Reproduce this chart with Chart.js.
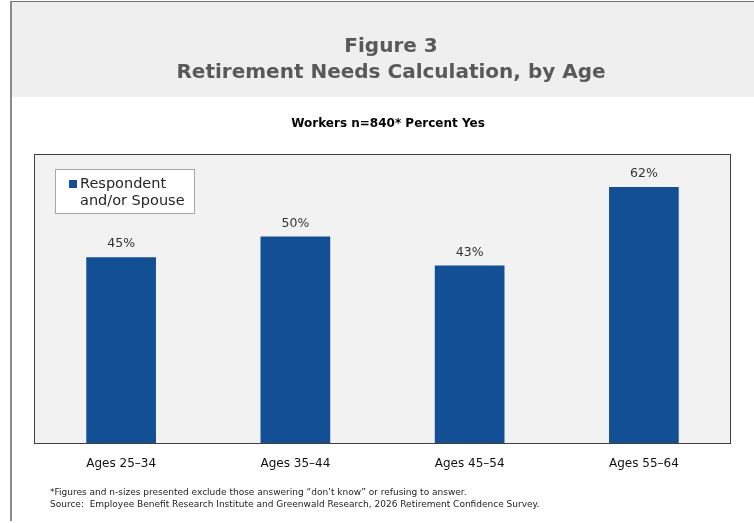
<!DOCTYPE html>
<html>
<head>
<meta charset="utf-8">
<script src="https://cdn.jsdelivr.net/npm/chart.js@4.4.0/dist/chart.umd.min.js"></script>
<style>
  html, body { margin: 0; padding: 0; background: #fff; }
  #wrap { position: relative; width: 754px; height: 523px; }
</style>
</head>
<body>
<div id="wrap"><canvas id="chart" width="754" height="523"></canvas></div>
<script>
const ageGroups = ['Ages 25\u201334', 'Ages 35\u201344', 'Ages 45\u201354', 'Ages 55\u201364'];
const percentYes = [45, 50, 43, 62];
const seriesLabel = ['Respondent', 'and/or Spouse'];
const titleLines = ['Figure 3', 'Retirement Needs Calculation, by Age'];
const subtitle = 'Workers n=840* Percent Yes';
const footnotes = [
  '*Figures and n-sizes presented exclude those answering \u201cdon\u2019t know\u201d or refusing to answer.',
  'Source:  Employee Benefit Research Institute and Greenwald Research, 2026 Retirement Confidence Survey.'
];

const FONT = '"DejaVu Sans", sans-serif';
const BAR_BLUE = '#124f94';

// page frame, header band, plot background and border
const framePlugin = {
  id: 'frame',
  beforeDraw(chart) {
    const ctx = chart.ctx;
    const a = chart.chartArea;
    ctx.save();
    ctx.fillStyle = '#ffffff';
    ctx.fillRect(0, 0, chart.width, chart.height);

    ctx.fillStyle = '#efefef';
    ctx.fillRect(10, 1, chart.width - 10, 96);
    ctx.strokeStyle = '#6e6e6e';
    ctx.lineWidth = 1;
    ctx.beginPath();
    ctx.moveTo(10, 1.5);
    ctx.lineTo(chart.width, 1.5);
    ctx.stroke();
    ctx.lineWidth = 2;
    ctx.strokeStyle = '#8a8a8a';
    ctx.beginPath();
    ctx.moveTo(11, 1);
    ctx.lineTo(11, 521);
    ctx.stroke();

    ctx.fillStyle = '#595959';
    ctx.textAlign = 'center';
    ctx.textBaseline = 'middle';
    ctx.font = 'bold 20px ' + FONT;
    ctx.fillText(titleLines[0], 391, 47);
    ctx.fillText(titleLines[1], 391, 73);

    ctx.fillStyle = '#000';
    ctx.font = 'bold 12px ' + FONT;
    ctx.fillText(subtitle, 388, 124);

    ctx.fillStyle = '#f2f2f2';
    ctx.fillRect(a.left, a.top, a.right - a.left, a.bottom - a.top);

    ctx.textAlign = 'left';
    ctx.fillStyle = '#222';
    ctx.font = '9px ' + FONT;
    ctx.fillText(footnotes[0], 50, 493);
    ctx.fillText(footnotes[1], 50, 505);
    ctx.restore();
  },
  afterDraw(chart) {
    const ctx = chart.ctx;
    const a = chart.chartArea;
    ctx.save();
    ctx.strokeStyle = '#404040';
    ctx.lineWidth = 1;
    ctx.strokeRect(a.left + 0.5, a.top + 0.5, a.right - a.left - 1, a.bottom - a.top);

    // legend box inside the plot
    const lx = 55, ly = 169, lw = 139, lh = 44;
    ctx.fillStyle = '#fff';
    ctx.fillRect(lx, ly, lw, lh);
    ctx.strokeStyle = '#a6a6a6';
    ctx.strokeRect(lx + 0.5, ly + 0.5, lw, lh);
    ctx.fillStyle = chart.data.datasets[0].backgroundColor;
    ctx.fillRect(69, 180, 8, 8);
    ctx.fillStyle = '#262626';
    ctx.font = '14.5px ' + FONT;
    ctx.textAlign = 'left';
    ctx.textBaseline = 'middle';
    ctx.fillText(seriesLabel[0], 80, 184);
    ctx.fillText(seriesLabel[1], 80, 201);

    // value labels above each bar
    const meta = chart.getDatasetMeta(0);
    ctx.fillStyle = '#333';
    ctx.textAlign = 'center';
    ctx.font = '12.5px ' + FONT;
    meta.data.forEach((bar, i) => {
      ctx.fillText(chart.data.datasets[0].data[i] + '%', bar.x, bar.y - 13);
    });
    ctx.restore();
  }
};

new Chart(document.getElementById('chart'), {
  type: 'bar',
  data: {
    labels: ageGroups,
    datasets: [{
      label: seriesLabel.join(' '),
      data: percentYes,
      backgroundColor: BAR_BLUE,
      borderWidth: 0,
      categoryPercentage: 1,
      barPercentage: 0.4
    }]
  },
  options: {
    responsive: false,
    animation: false,
    events: [],
    layout: { padding: { left: 34, top: 154, right: 23, bottom: 40 } },
    plugins: {
      legend: { display: false },
      title: { display: false },
      tooltip: { enabled: false }
    },
    scales: {
      x: {
        grid: { display: false },
        border: { display: false },
        ticks: { color: '#111', font: { family: FONT, size: 12 }, padding: 6 },
        afterFit(scale) { scale.height = 40; }
      },
      y: {
        display: false,
        min: 0,
        max: 70
      }
    }
  },
  plugins: [framePlugin]
});
</script>
</body>
</html>
